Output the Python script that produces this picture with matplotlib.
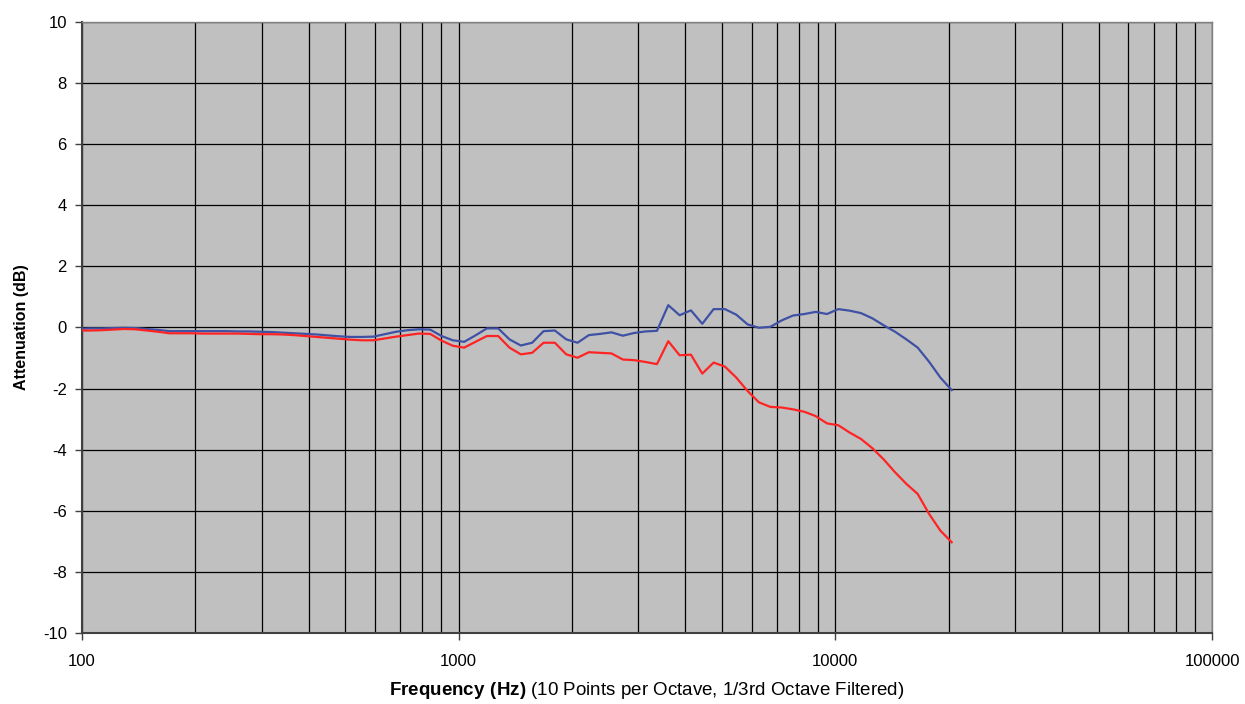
import matplotlib
matplotlib.use("Agg")
import matplotlib.pyplot as plt
from matplotlib.ticker import FixedLocator, NullFormatter, FixedFormatter

plt.rcParams['font.family'] = ['Liberation Sans', 'DejaVu Sans']
plt.rcParams['mathtext.fontset'] = 'custom'
plt.rcParams['mathtext.rm'] = 'Liberation Sans'
plt.rcParams['mathtext.bf'] = 'Liberation Sans:bold'

# frequencies (Hz), 10 points per octave
freq = [100, 105.0, 112.5, 120.6, 129.2, 138.5, 148.4, 159.1, 170.5, 182.7, 195.8,
        210.0, 225.1, 241.2, 258.5, 277.0, 296.9, 318.2, 341.0, 365.5, 391.7,
        420.0, 450.1, 482.4, 517.0, 554.1, 593.8, 636.4, 682.1, 731.0, 783.4,
        840.0, 900.3, 964.8, 1034, 1108, 1188, 1273, 1364, 1462, 1567,
        1680, 1800, 1930, 2068, 2216, 2375, 2545, 2728, 2924, 3133,
        3360, 3601, 3859, 4136, 4433, 4751, 5091, 5456, 5848, 6267,
        6720, 7202, 7718, 8272, 8865, 9501, 10182, 10913, 11696, 12535,
        13440, 14404, 15437, 16544, 17731, 19003, 20366]

# attenuation (dB)
blue = [-0.04, -0.03, -0.03, -0.02, -0.01, -0.02, -0.05, -0.08, -0.12, -0.12, -0.12,
        -0.12, -0.12, -0.12, -0.13, -0.13, -0.14, -0.15, -0.17, -0.19, -0.21,
        -0.23, -0.26, -0.29, -0.31, -0.31, -0.30, -0.22, -0.14, -0.09, -0.06,
        -0.07, -0.28, -0.42, -0.47, -0.26, -0.03, -0.03, -0.39, -0.59, -0.50,
        -0.12, -0.10, -0.39, -0.50, -0.25, -0.21, -0.16, -0.27, -0.18, -0.13,
        -0.11, 0.73, 0.40, 0.56, 0.12, 0.60, 0.60, 0.42, 0.10, -0.01,
        0.02, 0.23, 0.39, 0.44, 0.51, 0.44, 0.60, 0.55, 0.47, 0.30,
        0.07, -0.14, -0.39, -0.66, -1.12, -1.64, -2.05]

red = [-0.10, -0.10, -0.09, -0.07, -0.05, -0.06, -0.10, -0.14, -0.19, -0.19, -0.19,
       -0.20, -0.20, -0.20, -0.20, -0.21, -0.22, -0.22, -0.23, -0.25, -0.28,
       -0.31, -0.34, -0.37, -0.40, -0.42, -0.42, -0.36, -0.30, -0.25, -0.20,
       -0.21, -0.43, -0.60, -0.66, -0.47, -0.28, -0.28, -0.66, -0.88, -0.83,
       -0.50, -0.50, -0.88, -0.99, -0.81, -0.83, -0.85, -1.05, -1.07, -1.13,
       -1.20, -0.45, -0.91, -0.89, -1.51, -1.15, -1.28, -1.64, -2.08, -2.45,
       -2.60, -2.62, -2.68, -2.76, -2.90, -3.14, -3.20, -3.44, -3.65, -3.95,
       -4.32, -4.74, -5.12, -5.45, -6.10, -6.65, -7.03]

y_ticks = [-10, -8, -6, -4, -2, 0, 2, 4, 6, 8, 10]
x_major = [100, 1000, 10000, 100000]
x_labels = ['100', '1000', '10000', '100000']
x_minor = [m * d for d in [100, 1000, 10000] for m in range(2, 10)]

fig = plt.figure(figsize=(12.45, 7.04), dpi=100)
ax = fig.add_axes([0.0659, 0.1009, 0.9076, 0.8679])
ax.set_facecolor('#C0C0C0')

ax.plot(freq, blue, color='#3F51A5', lw=1.6, zorder=3)
ax.plot(freq, red, color='#FF2424', lw=1.6, zorder=3)

ax.set_xscale('log')
ax.set_xlim(100, 100000)
ax.set_ylim(-10, 10)
ax.xaxis.set_major_locator(FixedLocator(x_major))
ax.xaxis.set_major_formatter(FixedFormatter(x_labels))
ax.xaxis.set_minor_locator(FixedLocator(x_minor))
ax.xaxis.set_minor_formatter(NullFormatter())
ax.set_yticks(y_ticks)
ax.set_yticklabels([str(v) for v in y_ticks])

ax.grid(True, which='major', color='black', lw=0.9)
ax.grid(True, which='minor', axis='x', color='black', lw=0.9)
ax.set_axisbelow(True)

ax.tick_params(axis='both', which='major', direction='out', length=5, width=1,
               labelsize=12, colors='#404040', labelcolor='black')
ax.tick_params(axis='x', which='minor', length=0)
ax.tick_params(axis='x', which='major', pad=10)
ax.tick_params(axis='y', which='major', pad=6)

for s in ['left', 'bottom']:
    ax.spines[s].set_color('#404040')
    ax.spines[s].set_linewidth(1.5)
for s in ['top', 'right']:
    ax.spines[s].set_color('#808080')
    ax.spines[s].set_linewidth(1)

ax.set_ylabel('Attenuation (dB)', fontsize=11.5, fontweight='bold', labelpad=10)
ax.set_xlabel(r'$\bf{Frequency\ (Hz)}$ (10 Points per Octave, 1/3rd Octave Filtered)',
              fontsize=13.5, labelpad=8)

fig.savefig('out.png', dpi=100, facecolor='white')
